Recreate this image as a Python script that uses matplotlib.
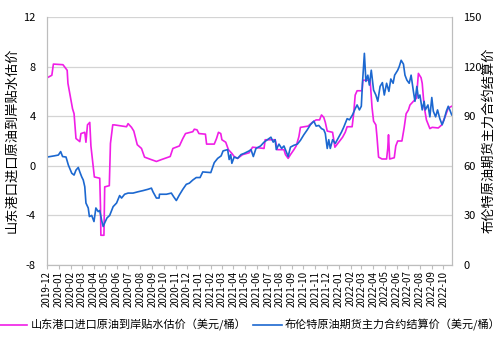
import pandas as pd
import matplotlib
matplotlib.use("Agg")
import matplotlib.pyplot as plt
import matplotlib.dates as mdates

plt.rcParams['font.family'] = ['Noto Sans CJK SC', 'DejaVu Sans']
plt.rcParams['axes.unicode_minus'] = False

# 山东港口进口原油到岸贴水估价（美元/桶）
premium_dates = [
    '2019-12-02', '2019-12-14', '2019-12-18', '2020-01-12', '2020-01-23', '2020-01-25',
    '2020-02-06', '2020-02-10', '2020-02-15', '2020-02-25', '2020-02-28', '2020-03-09',
    '2020-03-12', '2020-03-16', '2020-03-22', '2020-03-25', '2020-04-03', '2020-04-17',
    '2020-04-19', '2020-04-20', '2020-04-28', '2020-04-30', '2020-05-12', '2020-05-15',
    '2020-05-21', '2020-05-25', '2020-06-26', '2020-06-30', '2020-07-09', '2020-07-15',
    '2020-07-24', '2020-08-04', '2020-08-12', '2020-08-25', '2020-09-12', '2020-09-25',
    '2020-10-18', '2020-10-25', '2020-11-11', '2020-11-20', '2020-11-27', '2020-12-16',
    '2020-12-20', '2020-12-27', '2021-01-01', '2021-01-18', '2021-01-21', '2021-02-10',
    '2021-02-16', '2021-02-21', '2021-02-27', '2021-03-02', '2021-03-12', '2021-03-19',
    '2021-03-28', '2021-04-03', '2021-04-12', '2021-04-25', '2021-05-12', '2021-05-21',
    '2021-06-20', '2021-06-23', '2021-07-19', '2021-07-25', '2021-08-11', '2021-08-15',
    '2021-08-22', '2021-08-28', '2021-09-06', '2021-09-12', '2021-09-19', '2021-09-23',
    '2021-10-13', '2021-10-24', '2021-11-03', '2021-11-12', '2021-11-17', '2021-11-23',
    '2021-11-27', '2021-12-02', '2021-12-16', '2021-12-22', '2022-01-01', '2022-01-11',
    '2022-01-18', '2022-01-23', '2022-02-05', '2022-02-09', '2022-02-13', '2022-02-18',
    '2022-03-03', '2022-03-05', '2022-03-24', '2022-03-29', '2022-04-02', '2022-04-08',
    '2022-04-11', '2022-04-15', '2022-04-24', '2022-05-06', '2022-05-09', '2022-05-11',
    '2022-05-14', '2022-05-26', '2022-05-30', '2022-06-04', '2022-06-15', '2022-06-21',
    '2022-06-26', '2022-07-02', '2022-07-06', '2022-07-15', '2022-07-23', '2022-07-28',
    '2022-08-04', '2022-08-07', '2022-08-12', '2022-08-18', '2022-08-27', '2022-09-02',
    '2022-09-18', '2022-09-27', '2022-10-05', '2022-10-14', '2022-10-23',
]
premium_values = [
    7.1, 7.3, 8.2, 8.15, 7.7, 6.65,
    4.6, 4.2, 2.2, 1.95, 2.6, 2.7,
    1.9, 3.3, 3.5, 1.6, -0.9, -1.0,
    -3.3, -5.6, -5.6, -1.7, -1.6, 1.8,
    3.3, 3.3, 3.15, 3.4, 3.1, 2.8,
    1.7, 1.4, 0.7, 0.55, 0.35, 0.5,
    0.75, 1.4, 1.6, 2.2, 2.6, 2.75,
    2.95, 2.9, 2.6, 2.55, 1.75, 1.75,
    2.2, 2.7, 2.6, 2.1, 1.9, 1.3,
    1.0, 0.75, 0.6, 0.9, 1.05, 1.5,
    1.4, 2.1, 2.1, 1.3, 1.3, 0.9,
    0.6, 0.9, 1.3, 1.6, 2.35, 3.1,
    3.2, 3.5, 3.7, 3.7, 4.1, 3.9,
    3.5, 2.8, 2.7, 1.5, 1.9, 2.3,
    2.7, 3.15, 3.15, 4.2, 5.7, 6.05,
    6.05, 6.9, 6.9, 4.7, 3.6, 3.3,
    2.3, 0.7, 0.55, 0.55, 1.4, 2.5,
    0.55, 0.65, 1.6, 2.0, 2.0, 3.1,
    4.2, 4.5, 4.9, 5.2, 5.45, 7.45,
    7.1, 6.65, 4.8, 3.7, 3.0, 3.1,
    3.05, 3.3, 3.9, 4.65, 4.8,
]

# 布伦特原油期货主力合约结算价（美元/桶）
brent_dates = [
    '2019-12-02', '2019-12-20', '2019-12-31', '2020-01-06', '2020-01-11', '2020-01-20',
    '2020-01-26', '2020-02-04', '2020-02-10', '2020-02-15', '2020-02-21', '2020-02-25',
    '2020-03-01', '2020-03-05', '2020-03-09', '2020-03-12', '2020-03-18', '2020-03-21',
    '2020-03-27', '2020-04-02', '2020-04-07', '2020-04-13', '2020-04-17', '2020-04-22',
    '2020-04-26', '2020-04-30', '2020-05-06', '2020-05-13', '2020-05-22', '2020-05-31',
    '2020-06-08', '2020-06-13', '2020-06-21', '2020-06-30', '2020-07-13', '2020-07-26',
    '2020-08-08', '2020-08-21', '2020-08-30', '2020-09-03', '2020-09-12', '2020-09-19',
    '2020-09-20', '2020-10-08', '2020-10-21', '2020-10-27', '2020-11-03', '2020-11-11',
    '2020-11-20', '2020-11-29', '2020-12-07', '2020-12-16', '2020-12-25', '2021-01-04',
    '2021-01-11', '2021-02-01', '2021-02-10', '2021-02-19', '2021-02-28', '2021-03-05',
    '2021-03-17', '2021-03-21', '2021-03-25', '2021-03-28', '2021-04-03', '2021-04-12',
    '2021-04-21', '2021-04-29', '2021-05-12', '2021-05-17', '2021-05-23', '2021-05-30',
    '2021-06-11', '2021-06-20', '2021-06-29', '2021-07-08', '2021-07-14', '2021-07-19',
    '2021-07-22', '2021-07-29', '2021-08-05', '2021-08-11', '2021-08-17', '2021-08-22',
    '2021-08-28', '2021-09-06', '2021-09-15', '2021-09-23', '2021-10-02', '2021-10-11',
    '2021-10-19', '2021-10-28', '2021-11-03', '2021-11-10', '2021-11-17', '2021-11-23',
    '2021-11-27', '2021-12-02', '2021-12-06', '2021-12-10', '2021-12-16', '2021-12-23',
    '2021-12-30', '2022-01-08', '2022-01-14', '2022-01-23', '2022-01-29', '2022-01-31',
    '2022-02-06', '2022-02-13', '2022-02-18', '2022-02-24', '2022-03-01', '2022-03-04',
    '2022-03-09', '2022-03-13', '2022-03-18', '2022-03-22', '2022-03-27', '2022-04-02',
    '2022-04-08', '2022-04-13', '2022-04-19', '2022-04-25', '2022-04-30', '2022-05-06',
    '2022-05-12', '2022-05-17', '2022-05-23', '2022-05-27', '2022-06-04', '2022-06-08',
    '2022-06-13', '2022-06-19', '2022-06-23', '2022-06-28', '2022-07-04', '2022-07-09',
    '2022-07-15', '2022-07-19', '2022-07-24', '2022-07-28', '2022-08-01', '2022-08-07',
    '2022-08-12', '2022-08-15', '2022-08-22', '2022-08-27', '2022-09-01', '2022-09-05',
    '2022-09-11', '2022-09-16', '2022-09-22', '2022-09-28', '2022-10-03', '2022-10-09',
    '2022-10-14', '2022-10-18', '2022-10-23',
]
brent_values = [
    65.3, 66.0, 66.5, 68.6, 65.6, 65.3,
    60.5, 55.5, 54.4, 57.4, 59.0, 56.3,
    53.3, 51.4, 47.3, 37.5, 34.5, 29.3,
    30.0, 26.3, 34.5, 32.3, 33.0, 27.0,
    23.3, 25.5, 28.5, 30.0, 35.3, 37.5,
    42.0, 40.5, 42.8, 43.5, 43.5, 44.3,
    45.0, 45.8, 46.5, 44.3, 40.5, 40.5,
    42.8, 42.8, 43.5, 41.3, 39.0, 42.4,
    45.8, 48.8, 49.5, 51.4, 52.9, 52.9,
    56.3, 55.9, 61.9, 64.5, 66.0, 69.0,
    69.8, 63.8, 66.8, 61.5, 65.3, 64.5,
    66.8, 67.5, 69.0, 69.8, 65.6, 70.5,
    72.0, 74.3, 75.8, 77.3, 74.3, 75.8,
    69.8, 73.1, 70.5, 72.0, 68.6, 65.6,
    71.3, 72.4, 73.1, 75.4, 78.8, 81.8,
    84.8, 87.0, 84.0, 84.4, 82.5, 81.8,
    79.5, 70.5, 75.8, 70.5, 75.8, 73.5,
    76.5, 80.3, 83.3, 88.5, 87.8, 88.5,
    90.8, 94.5, 96.8, 93.8, 96.0, 109.9,
    128.0, 111.0, 114.8, 108.8, 117.8, 105.8,
    102.8, 99.0, 108.0, 110.3, 102.8, 109.9,
    105.0, 112.5, 109.9, 114.8, 117.8, 120.0,
    123.8, 121.5, 114.8, 111.8, 109.9, 114.8,
    105.0, 99.0, 108.0, 100.9, 102.8, 93.8,
    99.0, 93.8, 96.8, 89.6, 101.3, 93.0,
    89.6, 93.8, 88.5, 84.8, 87.8, 93.0,
    96.0, 93.8, 90.8,
]

premium_label = '山东港口进口原油到岸贴水估价（美元/桶）'
brent_label = '布伦特原油期货主力合约结算价（美元/桶）'

fig = plt.figure(figsize=(5.04, 3.46), dpi=100)
ax = fig.add_axes([0.093, 0.234, 0.804, 0.717])
ax2 = ax.twinx()

l1, = ax.plot(pd.to_datetime(premium_dates), premium_values, color='#f01ee6', lw=1.2)
l2, = ax2.plot(pd.to_datetime(brent_dates), brent_values, color='#1c68d0', lw=1.2)

ax.set_ylim(-8, 12)
ax.set_yticks(range(-8, 13, 4))
ax2.set_ylim(0, 150)
ax2.set_yticks(range(0, 151, 30))
ax.set_xlim(pd.Timestamp('2019-12-01'), pd.Timestamp('2022-10-24'))

ax.xaxis.set_major_locator(mdates.MonthLocator())
ax.xaxis.set_major_formatter(mdates.DateFormatter('%Y-%m'))
for lab in ax.get_xticklabels():
    lab.set_rotation(90)

ax.grid(axis='y', color='#d4d4d4', lw=0.9)
ax.set_axisbelow(True)

for a in (ax, ax2):
    for side in ('left', 'right', 'bottom'):
        a.spines[side].set_color('#bdbdbd')
    a.spines['top'].set_visible(False)
ax.tick_params(axis='x', labelsize=7, length=3, color='#bdbdbd', pad=1)
ax.tick_params(axis='y', labelsize=8, length=0, pad=8)
ax2.tick_params(axis='y', labelsize=8, length=0, pad=8)

fig.text(0.024, 0.595, '山东港口进口原油到岸贴水估价', rotation=90,
         ha='center', va='center', fontsize=9.5)
fig.text(0.970, 0.595, '布伦特原油期货主力合约结算价', rotation=90,
         ha='center', va='center', fontsize=9.5)

# 图例放在底部，两项横排
fig.legend([l1, l2], [premium_label, brent_label], loc='center',
           bbox_to_anchor=(0.495, 0.06), ncol=2, frameon=False, fontsize=8,
           handlelength=2.6, handletextpad=0.3, columnspacing=0.6)

fig.savefig('out.png', dpi=100)
